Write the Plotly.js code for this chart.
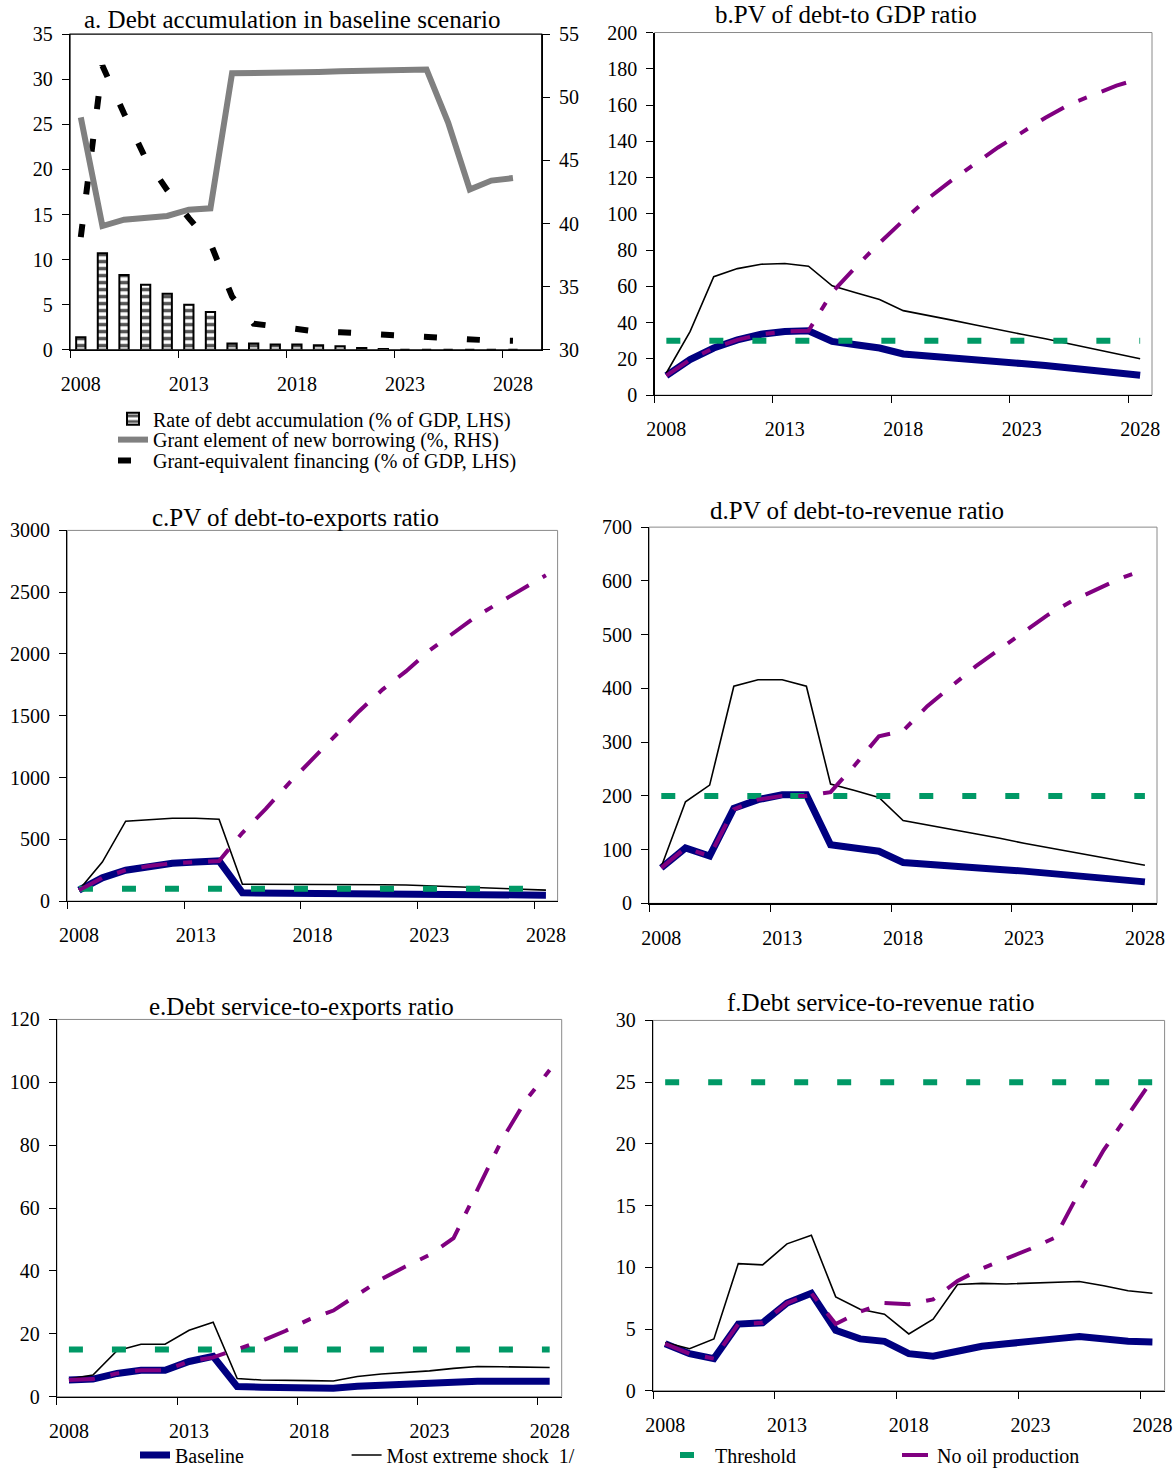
<!DOCTYPE html>
<html>
<head>
<meta charset="utf-8">
<script src="https://cdn.plot.ly/plotly-3.0.1.min.js"></script>
<style>html,body{margin:0;padding:0;background:#fff;}#chart{width:1176px;height:1475px;}</style>
</head>
<body>
<div id="chart"></div>
<script>
// ---------- data ----------
const years = ['2008','2009','2010','2011','2012','2013','2014','2015','2016','2017','2018',
               '2019','2020','2021','2022','2023','2024','2025','2026','2027','2028'];

// a. Debt accumulation in baseline scenario
const aDebtAccum   = [1.4, 10.7, 8.3, 7.2, 6.2, 5.0, 4.2, 0.7, 0.7, 0.6, 0.6, 0.5, 0.4, 0.2, 0.1, 0, 0, 0, 0, 0, 0];
const aGrantElem   = [48.4, 39.8, 40.3, 40.5, 40.6, 41.1, 41.2, 51.9, 51.9, 51.9, 52.0, 52.0, 52.05, 52.1, 52.05, 52.1, 52.2, 48.0, 42.7, 43.4, 43.6];
const aGrantEquiv  = [12.5, 31.5, 26.2, 21.2, 17.7, 14.6, 11.8, 5.9, 2.9, 2.6, 2.3, 2.0, 1.95, 1.8, 1.65, 1.6, 1.5, 1.3, 1.1, 1.03, 1.0];

// b. PV of debt-to GDP ratio
const bBaseline = [10.8, 19.6, 26.0, 30.5, 33.6, 35.1, 35.5, 29.6, 27.8, 26.0, 22.7, 21.8, 20.5, 19.6, 18.6, 17.4, 16.3, 15.0, 13.7, 12.6, 11.0];
const bShock    = [12.2, 35.0, 65.3, 69.8, 72.2, 72.6, 71.1, 60.3, 56.5, 52.8, 46.6, 44.2, 41.5, 38.8, 36.0, 33.6, 31.1, 28.3, 25.6, 22.7, 20.1];
const bThresh   = [30, 30, 30, 30, 30, 30, 30, 30, 30, 30, 30, 30, 30, 30, 30, 30, 30, 30, 30, 30, 30];
const bNoOil    = [10.8, 19.6, 26.0, 30.5, 33.6, 35.1, 35.5, 56.7, 70.7, 84.0, 96.3, 108.0, 118.0, 127.4, 136.6, 144.8, 153.0, 160.3, 165.8, 170.7, 174.6];

// c. PV of debt-to-exports ratio
const cBaseline = [88, 188, 250, 284, 306, 317, 325, 67, 66, 65, 64, 63, 62, 61, 60, 58, 56, 54, 52, 50, 48];
const cShock    = [89, 316, 647, 657, 671, 671, 663, 137, 137, 136, 136, 135, 134, 132, 130, 124, 118, 112, 106, 98, 89];
const cThresh   = [100, 100, 100, 100, 100, 100, 100, 100, 100, 100, 100, 100, 100, 100, 100, 100, 100, 100, 100, 100, 100];
const cNoOil    = [88, 188, 250, 284, 306, 317, 325, 553, 746, 955, 1148, 1336, 1537, 1712, 1859, 2026, 2168, 2302, 2415, 2530, 2637];

// d. PV of debt-to-revenue ratio
const dBaseline = [66, 103, 88, 177, 193, 202, 202, 109, 103, 97, 76, 72, 69, 66, 63, 60, 56, 52, 48, 44, 40];
const dShock    = [68, 189, 220, 404, 416, 416, 404, 222, 210, 197, 154, 146, 137, 129, 121, 112, 104, 96, 87, 79, 71];
const dThresh   = [200, 200, 200, 200, 200, 200, 200, 200, 200, 200, 200, 200, 200, 200, 200, 200, 200, 200, 200, 200, 200];
const dNoOil    = [66, 103, 88, 175, 193, 200, 200, 207, 257, 311, 321, 367, 404, 441, 473, 506, 537, 563, 584, 605, 621];

// e. Debt service-to-exports ratio
const eBaseline = [5.3, 5.6, 7.4, 8.4, 8.4, 11.2, 12.8, 3.2, 3.0, 3.0, 3.0, 2.7, 3.3, 3.7, 4.0, 4.2, 4.5, 4.9, 4.9, 4.9, 4.9];
const eShock    = [5.6, 6.9, 14.6, 16.7, 16.7, 21.1, 23.7, 5.8, 5.3, 5.3, 5.1, 5.0, 6.4, 7.2, 7.7, 8.2, 9.0, 9.6, 9.5, 9.4, 9.3];
const eThresh   = [15, 15, 15, 15, 15, 15, 15, 15, 15, 15, 15, 15, 15, 15, 15, 15, 15, 15, 15, 15, 15];
const eNoOil    = [5.3, 5.6, 7.4, 8.4, 8.4, 11.2, 12.5, 15.1, 17.7, 20.9, 24.6, 27.4, 32.5, 37.4, 41.4, 45.1, 50.4, 66.2, 81.5, 94.2, 103.9];

// f. Debt service-to-revenue ratio
const fBaseline = [3.8, 3.0, 2.6, 5.4, 5.5, 7.1, 7.9, 4.9, 4.2, 4.0, 3.0, 2.8, 3.2, 3.6, 3.8, 3.95, 4.2, 4.4, 4.2, 4.0, 3.95];
const fShock    = [3.9, 3.4, 4.2, 10.3, 10.2, 11.9, 12.6, 7.6, 6.6, 6.2, 4.6, 5.8, 8.6, 8.7, 8.65, 8.7, 8.8, 8.85, 8.5, 8.1, 7.9];
const fThresh   = [25, 25, 25, 25, 25, 25, 25, 25, 25, 25, 25, 25, 25, 25, 25, 25, 25, 25, 25, 25, 25];
const fNoOil    = [3.8, 3.0, 2.6, 5.4, 5.5, 7.1, 7.9, 5.4, 6.4, 7.1, 7.0, 7.4, 8.9, 9.9, 10.7, 11.5, 12.4, 16.1, 19.5, 22.4, 25.2];

const titles = ['a. Debt accumulation in baseline scenario', 'b.PV of debt-to GDP ratio', 'c.PV of debt-to-exports ratio',
                'd.PV of debt-to-revenue ratio', 'e.Debt service-to-exports ratio', 'f.Debt service-to-revenue ratio'];
const names = {
  accum: 'Rate of debt accumulation (% of GDP, LHS)',
  elem: 'Grant element of new borrowing (%, RHS)',
  equiv: 'Grant-equivalent financing (% of GDP, LHS)',
  base: 'Baseline', shock: 'Most extreme shock  1/', thresh: 'Threshold', nooil: 'No oil production'
};

// ---------- layout helpers ----------
const W = 1176, H = 1475;
const px = v => v / W;
const py = v => 1 - v / H;
const FONT = '"Liberation Serif", "Times New Roman", serif';

const NAVY = '#000080', PURPLE = '#800080', GREEN = '#009966', GRAYLINE = '#808080';

function xAxis(l, r, anchor, maxIdx) {
  return {
    type: 'category', domain: [px(l), px(r)], anchor: anchor,
    range: [-0.5, maxIdx], tickmode: 'linear', tick0: 0, dtick: 5,
    tickson: 'boundaries', ticks: 'outside', ticklen: 7, tickwidth: 1, tickcolor: '#000',
    showline: true, linecolor: '#000', linewidth: 1.2, showgrid: false, zeroline: false,
    ticklabelstandoff: 16, tickangle: 0,
    tickfont: {family: FONT, size: 20, color: '#000'}, fixedrange: true
  };
}
function yAxis(t, b, anchor, range, dtick, side) {
  return {
    domain: [py(b), py(t)], anchor: anchor, range: range, dtick: dtick, tick0: 0,
    ticks: 'outside', ticklen: 7, tickwidth: 1, tickcolor: '#000',
    showline: true, linecolor: '#000', linewidth: 1.2, showgrid: false, zeroline: false,
    ticklabelstandoff: 5, side: side || 'left',
    tickfont: {family: FONT, size: 20, color: '#000'}, fixedrange: true
  };
}

const panels = [
  {l: 70,    r: 541.7,  t: 34.3,  b: 351.7,  title: [292.7, 20]},
  {l: 654.5, r: 1152,   t: 32.7,  b: 397.3,  title: [846, 15]},
  {l: 67.3,  r: 557.6,  t: 533.3, b: 906,    title: [295.5, 520]},
  {l: 649.2, r: 1157,   t: 530,   b: 908.3,  title: [857, 513]},
  {l: 56.9,  r: 561.7,  t: 1025,  b: 1404.3, title: [301, 1011.7]},
  {l: 653,   r: 1164.6, t: 1026,  b: 1398.3, title: [880, 1008]}
];

const layout = {
  width: W, height: H, margin: {l: 0, r: 0, t: 0, b: 0},
  paper_bgcolor: '#fff', plot_bgcolor: 'rgba(0,0,0,0)',
  font: {family: FONT, size: 20, color: '#000'},
  bargap: 0.57, showlegend: true,
  annotations: [], shapes: []
};

// panel a axes
layout.xaxis  = xAxis(panels[0].l, panels[0].r, 'y', 21.33);
layout.yaxis  = yAxis(panels[0].t, panels[0].b, 'x', [0, 35], 5);
layout.yaxis2 = Object.assign(yAxis(panels[0].t, panels[0].b, 'x', [30, 55], 5, 'right'), {overlaying: 'y', tick0: 30});
// panels b-f
const yRanges = [null, [0, 200, 20], [0, 3000, 500], [0, 700, 100], [0, 120, 20], [0, 30, 5]];
for (let i = 1; i < 6; i++) {
  const p = panels[i];
  layout['xaxis' + (i + 1)] = xAxis(p.l, p.r, 'y' + (i + 2), 20.5);
  layout['yaxis' + (i + 2)] = yAxis(p.t, p.b, 'x' + (i + 1), [yRanges[i][0], yRanges[i][1]], yRanges[i][2]);
}

// frames & titles
panels.forEach((p, i) => {
  const xr = i === 0 ? 'x domain' : 'x' + (i + 1) + ' domain';
  const yr = i === 0 ? 'y domain' : 'y' + (i + 2) + ' domain';
  layout.shapes.push({type: 'rect', xref: xr, yref: yr, x0: 0, x1: 1, y0: 0, y1: 1, layer: 'below',
    line: {color: i === 0 ? '#000' : '#8a8a8a', width: i === 0 ? 1.2 : 1}, fillcolor: 'rgba(0,0,0,0)'});
  layout.annotations.push({text: titles[i], xref: 'paper', yref: 'paper', x: px(p.title[0]), y: py(p.title[1]),
    xanchor: 'center', yanchor: 'middle', showarrow: false, font: {family: FONT, size: 25, color: '#000'}});
});

// legends (one per entry for exact placement)
function legendAt(textX, textY) {
  return {x: px(textX - 40), y: py(textY), xanchor: 'left', yanchor: 'middle', bgcolor: 'rgba(0,0,0,0)',
    borderwidth: 0, font: {family: FONT, size: 20, color: '#000'}, itemclick: false, itemdoubleclick: false};
}
layout.legend  = legendAt(153, 421);
layout.legend2 = legendAt(153, 442);
layout.legend3 = legendAt(153, 463);
layout.legend4 = legendAt(175, 1463);
layout.legend5 = legendAt(386.6, 1463);
layout.legend6 = legendAt(715, 1463);
layout.legend7 = legendAt(937, 1463);

// ---------- traces ----------
const traces = [];
traces.push({type: 'bar', x: years, y: aDebtAccum, xaxis: 'x', yaxis: 'y', name: names.accum, legend: 'legend',
  marker: {color: '#fff', line: {color: '#000', width: 2},
           pattern: {shape: '-', fgcolor: '#555', bgcolor: '#fff', size: 7, solidity: 0.5}}});
traces.push({type: 'scatter', mode: 'lines', x: years, y: aGrantElem, xaxis: 'x', yaxis: 'y2', name: names.elem, legend: 'legend2',
  line: {color: GRAYLINE, width: 6}});
traces.push({type: 'scatter', mode: 'lines', x: years, y: aGrantEquiv, xaxis: 'x', yaxis: 'y', name: names.equiv, legend: 'legend3',
  line: {color: '#000', width: 6, dash: '13px,30px'}});

const sets = [
  [bBaseline, bShock, bThresh, bNoOil],
  [cBaseline, cShock, cThresh, cNoOil],
  [dBaseline, dShock, dThresh, dNoOil],
  [eBaseline, eShock, eThresh, eNoOil],
  [fBaseline, fShock, fThresh, fNoOil]
];
sets.forEach((s, k) => {
  const xa = 'x' + (k + 2), ya = 'y' + (k + 3);
  const show = k === 3;
  traces.push({type: 'scatter', mode: 'lines', x: years, y: s[0], xaxis: xa, yaxis: ya, name: names.base,
    legend: 'legend4', showlegend: show, line: {color: NAVY, width: 7}});
  traces.push({type: 'scatter', mode: 'lines', x: years, y: s[1], xaxis: xa, yaxis: ya, name: names.shock,
    legend: 'legend5', showlegend: show, line: {color: '#000', width: 1.6}});
  traces.push({type: 'scatter', mode: 'lines', x: years, y: s[2], xaxis: xa, yaxis: ya, name: names.thresh,
    legend: 'legend6', showlegend: show, line: {color: GREEN, width: 6, dash: '14px,29px'}});
  traces.push({type: 'scatter', mode: 'lines', x: years, y: s[3], xaxis: xa, yaxis: ya, name: names.nooil,
    legend: 'legend7', showlegend: show, line: {color: PURPLE, width: 4, dash: '26px,16px,9px,16px'}});
});

Plotly.newPlot('chart', traces, layout, {staticPlot: true, displayModeBar: false});
</script>
</body>
</html>
